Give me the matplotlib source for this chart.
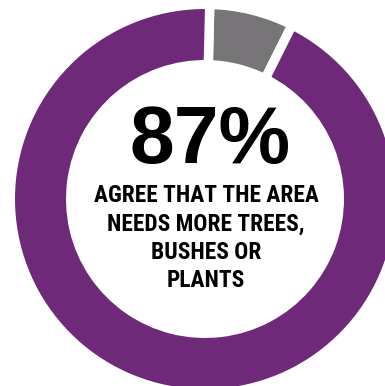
import matplotlib.pyplot as plt

# Donut values (share of the ring) and colours
labels = ["Disagree / other", "Agree"]
shares = [7, 93]
colors = ["#777577", "#6E2A79"]

headline = "87%"
caption = ["AGREE THAT THE AREA", "NEEDS MORE TREES,", "BUSHES OR", "PLANTS"]

fig = plt.figure(figsize=(3.85, 3.86), dpi=100)
ax = fig.add_axes([0, 0, 1, 1])

# work in pixel units, y pointing up
W, H = 385, 386
cx, cy = 205, H - 199
r_out, r_in = 190, 139
gap = 9.4  # px of white between slices
lw = gap * 72 / 100

ax.pie(shares, colors=colors, startangle=88.6, counterclock=False,
       center=(cx, cy), radius=r_out + gap / 2, frame=False,
       wedgeprops=dict(width=(r_out - r_in) + gap, edgecolor="white",
                       linewidth=lw, antialiased=True))
ax.set_xlim(0, W)
ax.set_ylim(0, H)
ax.set_aspect("equal")
ax.axis("off")

ax.text(210, H - 163, headline, ha="center", va="baseline",
        fontsize=58, fontweight="bold", family="Liberation Sans")

for i, line in enumerate(caption):
    ax.text(206, H - (202 + 28.4 * i), line, ha="center", va="baseline",
            fontsize=16.8, fontweight="bold",
            family=["Roboto Condensed", "Liberation Sans"])

fig.savefig("out.png", dpi=100)
